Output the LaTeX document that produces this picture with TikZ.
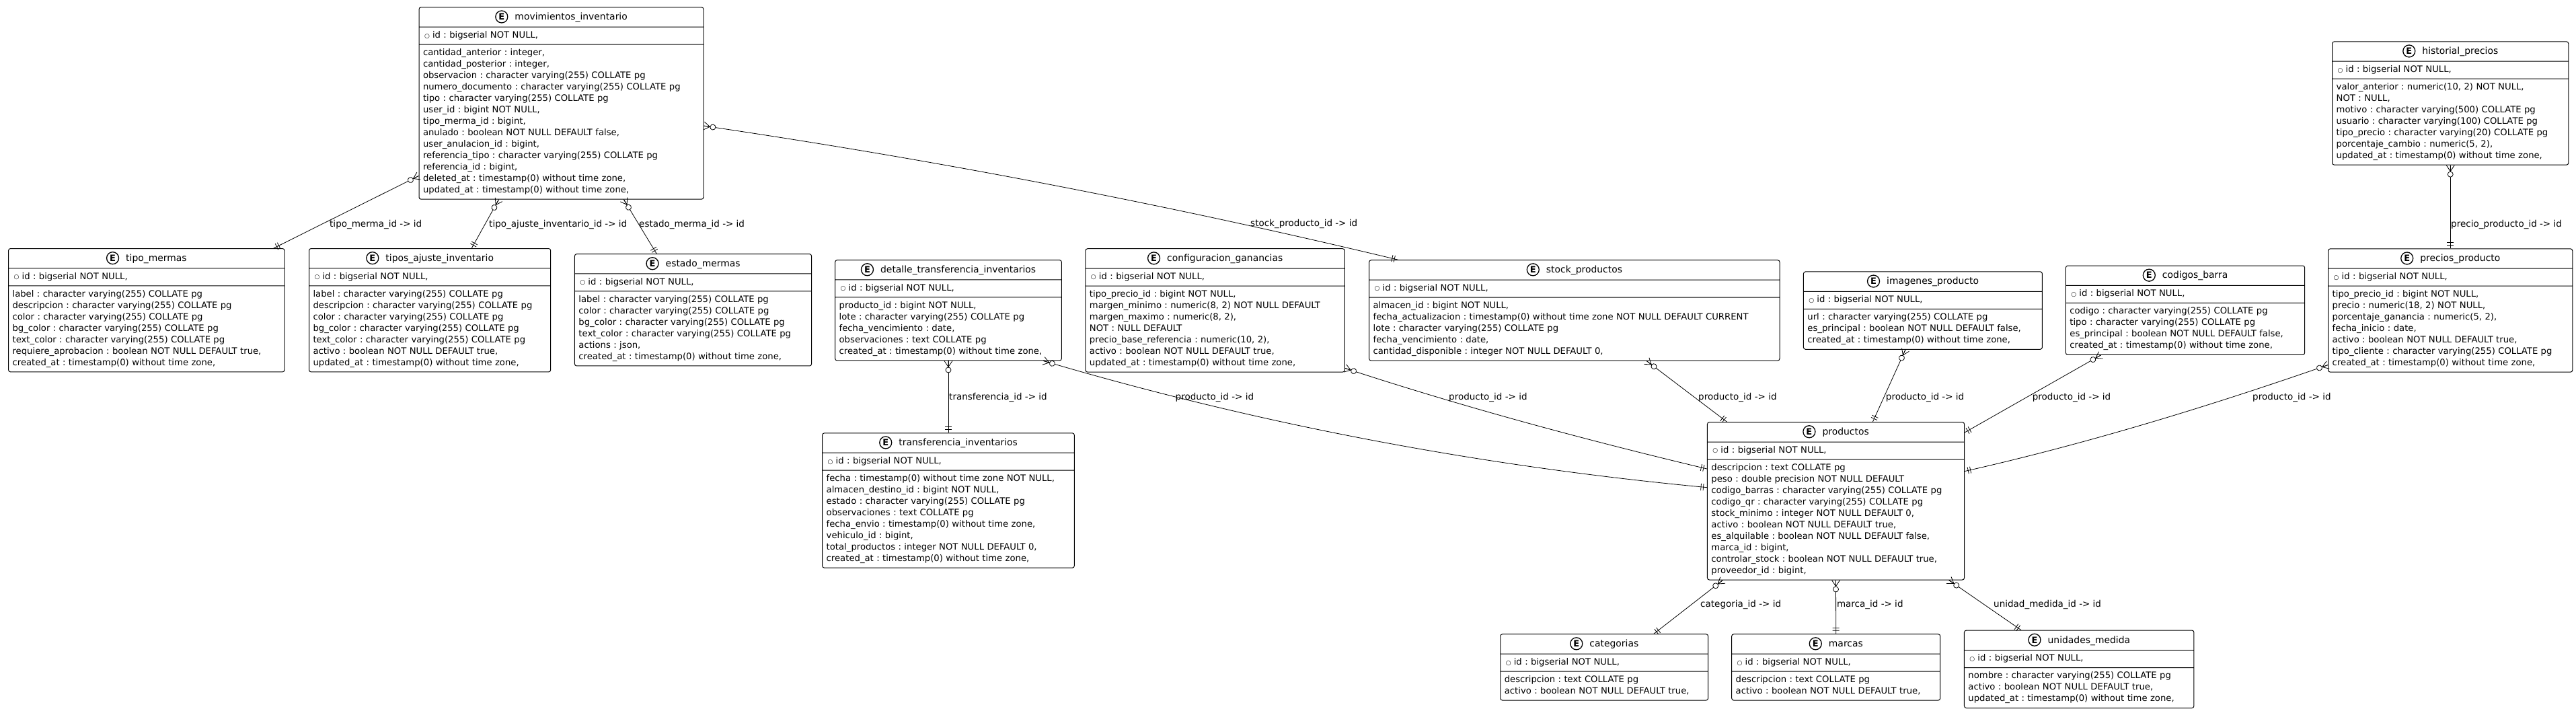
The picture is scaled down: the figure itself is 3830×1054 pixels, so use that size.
\documentclass[tikz,border=0pt]{standalone}
\usepackage{fontspec}
\setmainfont{DejaVu Sans}
\usetikzlibrary{shapes.multipart,decorations.markings}
\frenchspacing
\tikzset{
  entity/.style={rectangle split, rectangle split parts=3, draw, line width=1pt, rounded corners=3pt,
    inner xsep=6pt, inner ysep=4pt, align=left, font=\fontsize{13.2}{17}\selectfont},
  entitymark/.style={circle, draw, line width=1.3pt, rounded corners=0pt, text width=, align=center, inner sep=0pt,
    minimum size=18pt, font=\fontsize{13}{13}\selectfont\bfseries},
  rel/.style={line width=.8pt, decoration={markings,
      mark=at position 0pt with {\draw (0,-6)--(9,0)--(0,6) (0,0)--(9,0); \draw[fill=white] (13.5,0) circle (4);},
      mark=at position 0.9995 with {\draw (-5,-5)--(-5,5) (-8.5,-5)--(-8.5,5);}},
    postaction=decorate},
  rellabel/.style={anchor=west, inner sep=0pt, font=\fontsize{13.5}{16}\selectfont}
}
\newcommand{\pkrow}{\makebox[14pt][l]{\hspace{2pt}\raisebox{.5pt}{\fontsize{9}{9}\selectfont ○}}id : bigserial NOT NULL,}
\newcommand{\entitytable}[4]{%
  \node[entity, text width=#3pt-12pt] (#1) at (#2) {\rule{0pt}{14pt}\hspace*{\fill}\tikz[baseline=(mark.base)]\node[entitymark] (mark) {E};\hspace{10pt}{\fontsize{13.9}{17}\selectfont\detokenize{#1}}\hspace*{\fill}\rule[-6pt]{0pt}{6pt}%
    \nodepart{two}\strut\pkrow\strut
    \nodepart{three}\strut #4\strut};}
\begin{document}
\begin{tikzpicture}[x=1pt, y=-1pt]
  \useasboundingbox (0,0) rectangle (3830,1054);

  % tables
  \entitytable{movimientos_inventario}{834.5,153.5}{423}{cantidad\_anterior : integer,\\
    cantidad\_posterior : integer,\\
    observacion : character varying(255) COLLATE pg\\
    numero\_documento : character varying(255) COLLATE pg\\
    tipo : character varying(255) COLLATE pg\\
    user\_id : bigint NOT NULL,\\
    tipo\_merma\_id : bigint,\\
    anulado : boolean NOT NULL DEFAULT false,\\
    user\_anulacion\_id : bigint,\\
    referencia\_tipo : character varying(255) COLLATE pg\\
    referencia\_id : bigint,\\
    deleted\_at : timestamp(0) without time zone,\\
    updated\_at : timestamp(0) without time zone,}
  \entitytable{tipo_mermas}{217.8,461.2}{410.4}{label : character varying(255) COLLATE pg\\
    descripcion : character varying(255) COLLATE pg\\
    color : character varying(255) COLLATE pg\\
    bg\_color : character varying(255) COLLATE pg\\
    text\_color : character varying(255) COLLATE pg\\
    requiere\_aprobacion : boolean NOT NULL DEFAULT true,\\
    created\_at : timestamp(0) without time zone,}
  \entitytable{tipos_ajuste_inventario}{639.1,461.2}{359.2}{label : character varying(255) COLLATE pg\\
    descripcion : character varying(255) COLLATE pg\\
    color : character varying(255) COLLATE pg\\
    bg\_color : character varying(255) COLLATE pg\\
    text\_color : character varying(255) COLLATE pg\\
    activo : boolean NOT NULL DEFAULT true,\\
    updated\_at : timestamp(0) without time zone,}
  \entitytable{estado_mermas}{1030.5,460.8}{352.1}{label : character varying(255) COLLATE pg\\
    color : character varying(255) COLLATE pg\\
    bg\_color : character varying(255) COLLATE pg\\
    text\_color : character varying(255) COLLATE pg\\
    actions : json,\\
    created\_at : timestamp(0) without time zone,}
  \entitytable{detalle_transferencia_inventarios}{1410,461.3}{336.7}{producto\_id : bigint NOT NULL,\\
    lote : character varying(255) COLLATE pg\\
    fecha\_vencimiento : date,\\
    observaciones : text COLLATE pg\\
    created\_at : timestamp(0) without time zone,}
  \entitytable{configuracion_ganancias}{1806.6,461.4}{385.3}{tipo\_precio\_id : bigint NOT NULL,\\
    margen\_minimo : numeric(8, 2) NOT NULL DEFAULT\\
    margen\_maximo : numeric(8, 2),\\
    NOT : NULL DEFAULT\\
    precio\_base\_referencia : numeric(10, 2),\\
    activo : boolean NOT NULL DEFAULT true,\\
    updated\_at : timestamp(0) without time zone,}
  \entitytable{stock_productos}{2340.8,461.4}{610.4}{almacen\_id : bigint NOT NULL,\\
    fecha\_actualizacion : timestamp(0) without time zone NOT NULL DEFAULT CURRENT\\
    lote : character varying(255) COLLATE pg\\
    fecha\_vencimiento : date,\\
    cantidad\_disponible : integer NOT NULL DEFAULT 0,}
  \entitytable{imagenes_producto}{2858.9,461.6}{355}{url : character varying(255) COLLATE pg\\
    es\_principal : boolean NOT NULL DEFAULT false,\\
    created\_at : timestamp(0) without time zone,}
  \entitytable{codigos_barra}{3249,461.2}{355.3}{codigo : character varying(255) COLLATE pg\\
    tipo : character varying(255) COLLATE pg\\
    es\_principal : boolean NOT NULL DEFAULT false,\\
    created\_at : timestamp(0) without time zone,}
  \entitytable{precios_producto}{3643.2,461.5}{363}{tipo\_precio\_id : bigint NOT NULL,\\
    precio : numeric(18, 2) NOT NULL,\\
    porcentaje\_ganancia : numeric(5, 2),\\
    fecha\_inicio : date,\\
    activo : boolean NOT NULL DEFAULT true,\\
    tipo\_cliente : character varying(255) COLLATE pg\\
    created\_at : timestamp(0) without time zone,}
  \entitytable{historial_precios}{3643.2,153.5}{351.1}{valor\_anterior : numeric(10, 2) NOT NULL,\\
    NOT : NULL,\\
    motivo : character varying(500) COLLATE pg\\
    usuario : character varying(100) COLLATE pg\\
    tipo\_precio : character varying(20) COLLATE pg\\
    porcentaje\_cambio : numeric(5, 2),\\
    updated\_at : timestamp(0) without time zone,}
  \entitytable{transferencia_inventarios}{1410,744}{374.6}{fecha : timestamp(0) without time zone NOT NULL,\\
    almacen\_destino\_id : bigint NOT NULL,\\
    estado : character varying(255) COLLATE pg\\
    observaciones : text COLLATE pg\\
    fecha\_envio : timestamp(0) without time zone,\\
    vehiculo\_id : bigint,\\
    total\_productos : integer NOT NULL DEFAULT 0,\\
    created\_at : timestamp(0) without time zone,}
  \entitytable{productos}{2729.5,744.8}{382.1}{descripcion : text COLLATE pg\\
    peso : double precision NOT NULL DEFAULT\\
    codigo\_barras : character varying(255) COLLATE pg\\
    codigo\_qr : character varying(255) COLLATE pg\\
    stock\_minimo : integer NOT NULL DEFAULT 0,\\
    activo : boolean NOT NULL DEFAULT true,\\
    es\_alquilable : boolean NOT NULL DEFAULT false,\\
    marca\_id : bigint,\\
    controlar\_stock : boolean NOT NULL DEFAULT true,\\
    proveedor\_id : bigint,}
  \entitytable{categorias}{2385.2,991.9}{308.8}{descripcion : text COLLATE pg\\
    activo : boolean NOT NULL DEFAULT true,}
  \entitytable{marcas}{2729.7,991.9}{310}{descripcion : text COLLATE pg\\
    activo : boolean NOT NULL DEFAULT true,}
  \entitytable{unidades_medida}{3091.2,994.8}{341.5}{nombre : character varying(255) COLLATE pg\\
    activo : boolean NOT NULL DEFAULT true,\\
    updated\_at : timestamp(0) without time zone,}

  % relations
  \draw[rel] (movimientos_inventario.207.3) -- (tipo_mermas.26.2);
  \draw[rel] (movimientos_inventario.237.2) -- (tipos_ajuste_inventario.56.9);
  \draw[rel] (movimientos_inventario.303.25) -- (estado_mermas.123.45);
  \draw[rel] (movimientos_inventario.351) .. controls +(346,51) and +(-346,-83) .. (stock_productos.164.17);
  \draw[rel] (detalle_transferencia_inventarios.south) -- (transferencia_inventarios.north);
  \draw[rel] (detalle_transferencia_inventarios.332.8) .. controls +(329,97) and +(-329,-31) .. (productos.174.38);
  \draw[rel] (configuracion_ganancias.336.8) .. controls +(180,59) and +(-180,-43) .. (productos.166.1);
  \draw[rel] (stock_productos.325) -- (productos.144.4);
  \draw[rel] (imagenes_producto.246.9) -- (productos.65.1);
  \draw[rel] (codigos_barra.208.2) -- (productos.28.85);
  \draw[rel] (precios_producto.204.7) .. controls +(-180,62.6) and +(180,-40.6) .. (productos.13.3);
  \draw[rel] (historial_precios.south) -- (precios_producto.north);
  \draw[rel] (productos.215.3) -- (categorias.34.9);
  \draw[rel] (productos.south) -- (marcas.north);
  \draw[rel] (productos.325.95) -- (unidades_medida.146.5);

  % relation labels
  \node[rellabel] (lbl_tipo_merma) at (490,334) {tipo\_merma\_id -> id};
  \node[rellabel] (lbl_tipo_ajuste) at (727,334) {tipo\_ajuste\_inventario\_id -> id};
  \node[rellabel] (lbl_estado_merma) at (950,334) {estado\_merma\_id -> id};
  \node[rellabel] (lbl_stock_producto) at (1859,333) {stock\_producto\_id -> id};
  \node[rellabel] (lbl_transferencia) at (1411,590.7) {transferencia\_id -> id};
  \node[rellabel] (lbl_detalle) at (1747.5,590.7) {producto\_id -> id};
  \node[rellabel] (lbl_config) at (2154,590.7) {producto\_id -> id};
  \node[rellabel] (lbl_stock) at (2525,590.7) {producto\_id -> id};
  \node[rellabel] (lbl_imagenes) at (2803.7,590.7) {producto\_id -> id};
  \node[rellabel] (lbl_codigos) at (3021.6,590.7) {producto\_id -> id};
  \node[rellabel] (lbl_precios) at (3349,590.7) {producto\_id -> id};
  \node[rellabel] (lbl_precio_producto) at (3644,333.7) {precio\_producto\_id -> id};
  \node[rellabel] (lbl_categoria) at (2528,898.7) {categoria\_id -> id};
  \node[rellabel] (lbl_marca) at (2730.8,898.7) {marca\_id -> id};
  \node[rellabel] (lbl_unidad) at (2964,898.7) {unidad\_medida\_id -> id};
\end{tikzpicture}
\end{document}
